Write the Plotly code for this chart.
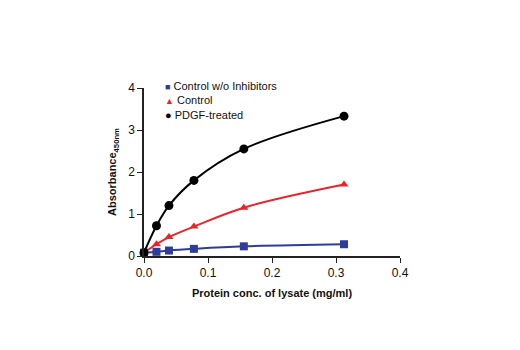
import plotly.graph_objects as go

conc = [0, 0.0195, 0.039, 0.078, 0.156, 0.3125]
ctrl_no_inh = [0.08, 0.10, 0.13, 0.17, 0.23, 0.28]
ctrl = [0.08, 0.28, 0.45, 0.70, 1.15, 1.70]
pdgf = [0.08, 0.72, 1.20, 1.80, 2.55, 3.33]

series = [
    ("Control w/o Inhibitors", ctrl_no_inh, "#2e3d9a", "square", 8, "\u25a0", 9),
    ("Control", ctrl, "#e8262a", "triangle-up", 8, "\u25b2", 9),
    ("PDGF-treated", pdgf, "#000000", "circle", 9, "\u25cf", 11),
]

font_fam = "Liberation Sans Narrow, Arial Narrow, Liberation Sans, Arial"
fig = go.Figure()
for name, vals, col, sym, sz, glyph, gs in series:
    fig.add_trace(go.Scatter(x=conc, y=vals, mode="lines", line=dict(color=col, width=2, shape="spline", smoothing=1.0),
                             showlegend=False, hoverinfo="skip", cliponaxis=False))
for name, vals, col, sym, sz, glyph, gs in series:
    fig.add_trace(go.Scatter(x=conc, y=vals, mode="markers", name=name, showlegend=False,
                             marker=dict(color=col, symbol=sym, size=sz), cliponaxis=False))

legend_text = "<br>".join(
    f"<span style='color:{col}; font-size:{gs}px'>{glyph}</span> {name}"
    for name, vals, col, sym, sz, glyph, gs in series
)
fig.add_annotation(xref="paper", yref="paper", x=0.075, y=1.06, xanchor="left", yanchor="top",
                   text=legend_text, showarrow=False, align="left", font=dict(size=11, color="#111"))

fig.update_layout(
    width=520, height=350,
    margin=dict(l=144, r=120, t=88, b=94),
    paper_bgcolor="white", plot_bgcolor="white",
    font=dict(family=font_fam, size=12, color="#111"),
    showlegend=False,
    xaxis=dict(range=[0, 0.4], tickvals=[0, 0.1, 0.2, 0.3, 0.4], ticktext=["0.0", "0.1", "0.2", "0.3", "0.4"],
               showgrid=False, zeroline=False, showline=True, linecolor="#222", linewidth=1.5,
               ticks="outside", ticklen=5, tickcolor="#222",
               title=dict(text="<b>Protein conc. of lysate (mg/ml)</b>", font=dict(size=11), standoff=10)),
    yaxis=dict(range=[0, 4], tickvals=[0, 1, 2, 3, 4],
               showgrid=False, zeroline=False, showline=True, linecolor="#222", linewidth=1.5,
               ticks="outside", ticklen=5, tickcolor="#222",
               title=dict(text="<b>Absorbance<sub>450nm</sub></b>", font=dict(size=11), standoff=9)),
)
fig.write_html("out.html")
